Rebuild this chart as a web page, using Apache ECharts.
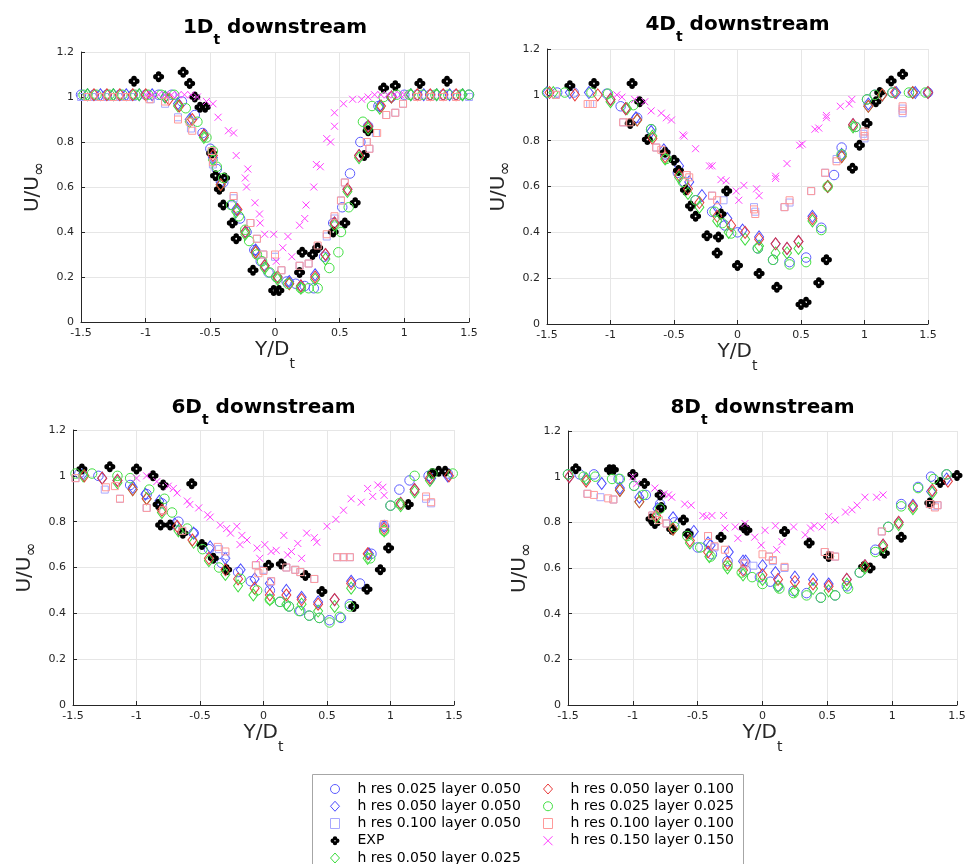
<!DOCTYPE html>
<html><head><meta charset="utf-8">
<script src="https://cdn.jsdelivr.net/npm/echarts@6/dist/echarts.min.js"></script>
<style>html,body{margin:0;padding:0;background:#fff}#c{width:972px;height:864px}</style>
</head><body><div id="c"></div>
<script>
// ---------------- DATA ----------------
const panelLabels = ['1', '4', '6', '8'];
const xTicks = [-1.5, -1, -0.5, 0, 0.5, 1, 1.5];
const yTicks = [0, 0.2, 0.4, 0.6, 0.8, 1, 1.2];
const seriesNames = ['h res 0.025 layer 0.050', 'h res 0.050 layer 0.050', 'h res 0.100 layer 0.050', 'EXP',
  'h res 0.050 layer 0.025', 'h res 0.050 layer 0.100', 'h res 0.025 layer 0.025', 'h res 0.100 layer 0.100', 'h res 0.150 layer 0.150'];

// ---- 1 Dt downstream ----
const D1_bc = [[-1.5,1.01],[-1.4,1.01],[-1.3,1.01],[-1.2,1.01],[-1.1,1.01],[-1.0,1.01],[-0.9,1.01],[-0.8,1.01],[-0.72,0.98],[-0.62,0.92],[-0.56,0.84],[-0.5,0.77],[-0.45,0.68],[-0.4,0.62],[-0.33,0.52],[-0.27,0.46],[-0.22,0.4],[-0.16,0.32],[-0.11,0.27],[-0.05,0.22],[0.01,0.2],[0.09,0.18],[0.16,0.17],[0.23,0.16],[0.3,0.15],[0.38,0.29],[0.45,0.44],[0.52,0.51],[0.58,0.66],[0.66,0.8],[0.72,0.87],[0.8,0.96],[0.9,1.0],[1.0,1.01],[1.1,1.01],[1.2,1.01],[1.3,1.01],[1.4,1.01],[1.5,1.01]];
const D1_bd = [[-1.45,1.01],[-1.35,1.01],[-1.25,1.01],[-1.15,1.01],[-1.05,1.01],[-0.95,1.01],[-0.85,1.0],[-0.75,0.97],[-0.66,0.9],[-0.55,0.83],[-0.48,0.73],[-0.42,0.62],[-0.3,0.5],[-0.23,0.4],[-0.15,0.32],[-0.08,0.25],[0.02,0.2],[0.11,0.18],[0.2,0.16],[0.31,0.21],[0.39,0.3],[0.46,0.44],[0.56,0.59],[0.65,0.74],[0.72,0.87],[0.81,0.96],[0.9,1.0],[1.05,1.01],[1.15,1.01],[1.25,1.01],[1.35,1.01],[1.45,1.01]];
const D1_bs = [[-1.5,1.0],[-1.4,1.0],[-1.3,1.0],[-1.2,1.0],[-1.1,1.0],[-0.96,0.99],[-0.85,0.97],[-0.75,0.91],[-0.65,0.86],[-0.49,0.75],[-0.48,0.7],[-0.32,0.55],[-0.19,0.44],[-0.14,0.37],[-0.09,0.3],[0.0,0.29],[0.05,0.23],[0.19,0.25],[0.26,0.26],[0.33,0.33],[0.4,0.38],[0.46,0.46],[0.51,0.54],[0.54,0.62],[0.71,0.8],[0.73,0.77],[0.78,0.84],[0.86,0.92],[0.93,0.93],[0.99,0.97],[1.1,1.0],[1.2,1.0],[1.3,1.0],[1.4,1.0],[1.5,1.0]];
const D1_exp = [[-1.09,1.07],[-0.9,1.09],[-0.71,1.11],[-0.66,1.06],[-0.62,1.0],[-0.58,0.955],[-0.54,0.955],[-0.49,0.75],[-0.46,0.65],[-0.39,0.64],[-0.43,0.59],[-0.4,0.52],[-0.33,0.44],[-0.3,0.37],[-0.17,0.23],[-0.01,0.14],[0.03,0.14],[0.19,0.22],[0.21,0.31],[0.29,0.3],[0.33,0.33],[0.45,0.4],[0.54,0.44],[0.62,0.53],[0.69,0.74],[0.72,0.85],[0.84,1.04],[0.93,1.05],[1.12,1.06],[1.33,1.07]];
const D1_gd = [[-1.45,1.01],[-1.25,1.01],[-1.05,1.01],[-0.85,1.0],[-0.75,0.96],[-0.66,0.89],[-0.55,0.82],[-0.48,0.72],[-0.42,0.61],[-0.3,0.49],[-0.23,0.39],[-0.15,0.31],[-0.08,0.24],[0.02,0.19],[0.11,0.17],[0.2,0.15],[0.31,0.19],[0.39,0.28],[0.46,0.43],[0.56,0.58],[0.65,0.73],[0.72,0.86],[0.81,0.95],[0.9,1.0],[1.05,1.01],[1.25,1.01],[1.45,1.01]];
const D1_rd = [[-1.4,1.01],[-1.3,1.01],[-1.2,1.01],[-1.1,1.01],[-1.0,1.01],[-0.82,0.99],[-0.74,0.96],[-0.64,0.9],[-0.55,0.83],[-0.48,0.74],[-0.42,0.61],[-0.29,0.5],[-0.23,0.4],[-0.15,0.31],[-0.08,0.25],[0.02,0.2],[0.11,0.17],[0.2,0.16],[0.31,0.2],[0.39,0.3],[0.46,0.44],[0.56,0.59],[0.65,0.74],[0.72,0.87],[0.82,0.96],[0.9,1.0],[1.1,1.01],[1.2,1.01],[1.3,1.01],[1.4,1.01]];
const D1_gc = [[-1.48,1.01],[-1.38,1.01],[-1.28,1.01],[-1.18,1.01],[-1.08,1.01],[-0.98,1.01],[-0.88,1.01],[-0.78,1.01],[-0.69,0.95],[-0.6,0.89],[-0.53,0.82],[-0.48,0.76],[-0.45,0.69],[-0.4,0.64],[-0.34,0.52],[-0.28,0.47],[-0.23,0.41],[-0.2,0.36],[-0.14,0.3],[-0.1,0.27],[-0.04,0.22],[0.01,0.2],[0.1,0.17],[0.2,0.15],[0.26,0.15],[0.33,0.15],[0.42,0.24],[0.49,0.31],[0.51,0.4],[0.57,0.51],[0.68,0.89],[0.75,0.96],[0.84,1.0],[0.94,1.01],[1.04,1.01],[1.14,1.01],[1.24,1.01],[1.34,1.01],[1.44,1.01],[1.5,1.01]];
const D1_rs = [[-1.45,1.0],[-1.35,1.0],[-1.25,1.0],[-1.15,1.0],[-0.97,0.99],[-0.85,0.98],[-0.75,0.9],[-0.66,0.89],[-0.64,0.85],[-0.49,0.76],[-0.48,0.71],[-0.32,0.56],[-0.19,0.44],[-0.14,0.37],[-0.09,0.3],[0.0,0.3],[0.05,0.23],[0.19,0.25],[0.26,0.26],[0.33,0.34],[0.4,0.39],[0.46,0.47],[0.51,0.54],[0.54,0.62],[0.71,0.8],[0.73,0.77],[0.79,0.84],[0.86,0.92],[0.93,0.93],[0.99,0.97],[1.1,1.0],[1.2,1.0],[1.3,1.0],[1.4,1.0]];
const D1_mx = [[-1.0,1.01],[-0.95,1.01],[-0.9,1.01],[-0.85,1.01],[-0.8,1.01],[-0.75,1.01],[-0.7,1.01],[-0.65,1.01],[-0.6,1.0],[-0.53,0.98],[-0.48,0.97],[-0.44,0.91],[-0.36,0.85],[-0.32,0.84],[-0.3,0.74],[-0.23,0.64],[-0.22,0.6],[-0.21,0.68],[-0.155,0.53],[-0.12,0.48],[-0.115,0.44],[-0.08,0.39],[-0.01,0.39],[0.01,0.27],[0.06,0.33],[0.1,0.38],[0.13,0.29],[0.19,0.43],[0.23,0.46],[0.24,0.52],[0.3,0.6],[0.32,0.7],[0.35,0.69],[0.4,0.815],[0.43,0.8],[0.46,0.87],[0.46,0.93],[0.53,0.97],[0.6,0.99],[0.67,0.99],[0.72,1.0],[0.77,1.01],[0.82,1.01],[0.87,1.01],[0.92,1.01],[0.97,1.01],[1.0,1.01]];

// ---- 4 Dt downstream ----
const D2_bc = [[-1.42,1.01],[-1.29,1.01],[-1.03,1.005],[-0.92,0.95],[-0.79,0.9],[-0.68,0.85],[-0.57,0.74],[-0.47,0.66],[-0.42,0.62],[-0.33,0.54],[-0.2,0.49],[-0.1,0.43],[0.0,0.4],[0.16,0.33],[0.28,0.28],[0.41,0.27],[0.54,0.29],[0.66,0.42],[0.76,0.65],[0.82,0.77],[0.93,0.86],[1.02,0.98],[1.08,1.0],[1.22,1.01],[1.38,1.01],[1.5,1.01]];
const D2_bd = [[-1.5,1.01],[-1.32,1.01],[-1.17,1.01],[-1.0,0.98],[-0.88,0.94],[-0.8,0.9],[-0.68,0.84],[-0.58,0.76],[-0.46,0.69],[-0.38,0.62],[-0.28,0.56],[-0.16,0.51],[-0.08,0.46],[0.04,0.41],[0.17,0.38],[0.3,0.35],[0.39,0.33],[0.48,0.36],[0.59,0.47],[0.71,0.6],[0.82,0.74],[0.91,0.87],[1.03,0.96],[1.14,1.0],[1.25,1.01],[1.4,1.01],[1.5,1.01]];
const D2_bs = [[-1.43,1.0],[-1.16,0.96],[-0.9,0.88],[-0.64,0.77],[-0.4,0.65],[-0.2,0.56],[-0.11,0.54],[0.13,0.51],[0.14,0.49],[0.37,0.51],[0.41,0.53],[0.58,0.58],[0.69,0.66],[0.78,0.72],[0.99,0.83],[1.0,0.81],[1.3,0.94],[1.3,0.92]];
const D2_exp = [[-1.32,1.04],[-1.13,1.05],[-0.83,1.05],[-0.845,0.875],[-0.77,0.97],[-0.71,0.805],[-0.57,0.75],[-0.5,0.715],[-0.465,0.67],[-0.41,0.585],[-0.37,0.515],[-0.33,0.47],[-0.24,0.385],[-0.15,0.38],[-0.13,0.48],[-0.085,0.58],[-0.16,0.31],[0.0,0.255],[0.17,0.22],[0.31,0.16],[0.5,0.085],[0.54,0.095],[0.64,0.18],[0.7,0.28],[0.905,0.68],[0.96,0.78],[1.02,0.875],[1.09,0.97],[1.12,1.01],[1.21,1.06],[1.3,1.09]];
const D2_gd = [[-1.45,1.01],[-1.0,0.97],[-0.87,0.94],[-0.79,0.89],[-0.67,0.82],[-0.57,0.72],[-0.46,0.64],[-0.39,0.57],[-0.3,0.51],[-0.16,0.45],[-0.07,0.4],[0.06,0.37],[0.17,0.34],[0.3,0.31],[0.39,0.31],[0.48,0.33],[0.59,0.45],[0.71,0.6],[0.82,0.73],[0.91,0.86],[1.03,0.95],[1.14,1.0],[1.38,1.01]];
const D2_rd = [[-1.48,1.01],[-1.28,1.0],[-1.1,1.0],[-1.0,0.98],[-0.88,0.94],[-0.79,0.89],[-0.67,0.81],[-0.57,0.73],[-0.46,0.65],[-0.39,0.59],[-0.3,0.53],[-0.16,0.47],[-0.05,0.43],[0.06,0.4],[0.17,0.37],[0.3,0.35],[0.39,0.33],[0.48,0.36],[0.59,0.46],[0.71,0.6],[0.82,0.73],[0.91,0.87],[1.03,0.95],[1.14,1.0],[1.24,1.01],[1.38,1.01],[1.5,1.01]];
const D2_gc = [[-1.5,1.01],[-1.36,1.01],[-1.15,1.01],[-1.02,1.005],[-0.82,0.955],[-0.68,0.85],[-0.56,0.72],[-0.43,0.62],[-0.33,0.54],[-0.18,0.49],[-0.12,0.44],[-0.05,0.395],[0.16,0.33],[0.28,0.28],[0.41,0.26],[0.54,0.27],[0.66,0.41],[0.71,0.6],[0.82,0.74],[0.93,0.86],[1.02,0.98],[1.08,1.0],[1.22,1.01],[1.35,1.01],[1.48,1.01]];
const D2_rs = [[-1.43,1.0],[-1.18,0.96],[-1.14,0.96],[-0.9,0.88],[-0.85,0.88],[-0.64,0.77],[-0.6,0.76],[-0.4,0.65],[-0.38,0.64],[-0.2,0.56],[-0.16,0.54],[0.13,0.5],[0.14,0.48],[0.37,0.51],[0.41,0.54],[0.58,0.58],[0.69,0.66],[0.78,0.71],[1.0,0.84],[1.0,0.82],[1.3,0.95],[1.3,0.93]];
const D2_mx = [[-0.95,1.0],[-0.91,0.99],[-0.81,0.98],[-0.73,0.97],[-0.68,0.93],[-0.6,0.92],[-0.56,0.9],[-0.52,0.89],[-0.43,0.825],[-0.42,0.82],[-0.33,0.765],[-0.22,0.69],[-0.2,0.69],[-0.13,0.63],[-0.09,0.625],[-0.01,0.58],[0.05,0.605],[0.01,0.54],[0.15,0.59],[0.17,0.56],[0.3,0.645],[0.3,0.635],[0.39,0.7],[0.49,0.78],[0.51,0.785],[0.61,0.85],[0.64,0.855],[0.7,0.9],[0.7,0.91],[0.81,0.95],[0.88,0.96],[0.9,0.98]];

// ---- 6 Dt downstream ----
const D3_bc = [[-1.45,1.01],[-1.3,1.0],[-1.05,0.96],[-0.92,0.92],[-0.8,0.88],[-0.67,0.8],[-0.55,0.75],[-0.43,0.68],[-0.33,0.62],[-0.2,0.58],[-0.1,0.54],[0.05,0.5],[0.13,0.45],[0.2,0.43],[0.29,0.41],[0.36,0.39],[0.44,0.38],[0.52,0.37],[0.61,0.38],[0.68,0.44],[0.76,0.53],[0.85,0.66],[0.95,0.78],[1.0,0.87],[1.07,0.94],[1.15,0.98],[1.3,1.0],[1.45,1.01]];
const D3_bd = [[-1.42,1.01],[-1.27,0.99],[-1.15,0.98],[-1.03,0.95],[-0.93,0.92],[-0.82,0.89],[-0.7,0.79],[-0.55,0.75],[-0.42,0.69],[-0.3,0.64],[-0.18,0.59],[-0.07,0.55],[0.05,0.53],[0.18,0.5],[0.3,0.47],[0.43,0.45],[0.56,0.46],[0.69,0.54],[0.83,0.66],[0.95,0.78],[1.08,0.88],[1.19,0.94],[1.32,0.99],[1.45,1.0]];
const D3_bs = [[-1.48,0.99],[-1.25,0.94],[-1.13,0.9],[-0.92,0.86],[-0.79,0.85],[-0.64,0.76],[-0.35,0.68],[-0.3,0.65],[-0.06,0.61],[0.0,0.59],[0.06,0.54],[0.18,0.6],[0.25,0.59],[0.29,0.58],[0.4,0.55],[0.58,0.645],[0.63,0.645],[0.68,0.645],[0.94,0.78],[1.28,0.9],[1.32,0.88]];
const D3_exp = [[-1.43,1.03],[-1.21,1.04],[-1.0,1.03],[-0.87,1.0],[-0.79,0.96],[-0.565,0.965],[-0.83,0.875],[-0.81,0.785],[-0.735,0.785],[-0.635,0.75],[-0.485,0.7],[-0.395,0.64],[-0.29,0.59],[0.04,0.61],[0.14,0.615],[0.33,0.565],[0.46,0.495],[0.71,0.43],[0.815,0.505],[0.92,0.59],[0.985,0.685],[1.14,0.875],[1.33,1.01],[1.38,1.02],[1.43,1.02]];
const D3_gd = [[-1.42,1.0],[-1.15,0.97],[-1.03,0.94],[-0.92,0.9],[-0.8,0.84],[-0.67,0.76],[-0.55,0.71],[-0.43,0.63],[-0.3,0.57],[-0.2,0.52],[-0.08,0.48],[0.05,0.46],[0.18,0.44],[0.3,0.44],[0.43,0.41],[0.56,0.43],[0.69,0.51],[0.82,0.64],[0.95,0.76],[1.08,0.87],[1.19,0.93],[1.31,0.98]];
const D3_rd = [[-1.41,1.0],[-1.27,0.99],[-1.15,0.98],[-1.03,0.94],[-0.92,0.9],[-0.8,0.85],[-0.68,0.78],[-0.56,0.72],[-0.43,0.64],[-0.3,0.59],[-0.2,0.55],[-0.07,0.51],[0.05,0.48],[0.18,0.48],[0.3,0.46],[0.43,0.44],[0.56,0.46],[0.69,0.53],[0.82,0.66],[0.95,0.77],[1.08,0.88],[1.19,0.94],[1.31,0.99],[1.46,1.0]];
const D3_gc = [[-1.48,1.01],[-1.35,1.01],[-1.15,1.0],[-1.05,0.99],[-0.9,0.94],[-0.78,0.9],[-0.72,0.84],[-0.6,0.77],[-0.48,0.68],[-0.35,0.6],[-0.18,0.55],[-0.05,0.5],[0.05,0.46],[0.13,0.45],[0.2,0.43],[0.28,0.41],[0.36,0.39],[0.44,0.38],[0.52,0.36],[0.6,0.385],[0.68,0.43],[0.84,0.64],[0.95,0.76],[1.0,0.87],[1.07,0.88],[1.19,1.0],[1.33,1.01],[1.49,1.01]];
const D3_rs = [[-1.48,0.99],[-1.24,0.95],[-1.17,0.955],[-1.13,0.9],[-0.92,0.86],[-0.79,0.85],[-0.64,0.76],[-0.36,0.69],[-0.3,0.67],[-0.06,0.61],[-0.04,0.575],[0.0,0.585],[0.06,0.54],[0.18,0.6],[0.25,0.59],[0.29,0.58],[0.4,0.55],[0.58,0.645],[0.63,0.645],[0.68,0.645],[0.95,0.79],[1.28,0.91],[1.32,0.885]];
const D3_mx = [[-1.0,0.99],[-0.92,1.0],[-0.84,0.975],[-0.75,0.955],[-0.71,0.945],[-0.68,0.925],[-0.6,0.89],[-0.58,0.875],[-0.51,0.86],[-0.44,0.83],[-0.42,0.82],[-0.34,0.785],[-0.29,0.77],[-0.26,0.75],[-0.21,0.78],[-0.17,0.74],[-0.185,0.7],[-0.13,0.72],[-0.05,0.685],[-0.03,0.64],[0.01,0.7],[0.06,0.67],[0.1,0.675],[0.16,0.74],[0.19,0.655],[0.22,0.67],[0.27,0.705],[0.3,0.64],[0.34,0.75],[0.4,0.73],[0.42,0.71],[0.5,0.78],[0.57,0.81],[0.63,0.85],[0.69,0.9],[0.77,0.885],[0.82,0.945],[0.86,0.91],[0.9,0.96],[0.94,0.95],[0.95,0.915]];

// ---- 8 Dt downstream ----
const D4_bc = [[-1.5,1.01],[-1.41,1.01],[-1.3,1.01],[-1.11,0.99],[-0.99,0.96],[-0.9,0.92],[-0.79,0.88],[-0.68,0.8],[-0.57,0.75],[-0.5,0.69],[-0.39,0.66],[-0.27,0.63],[-0.13,0.59],[-0.02,0.56],[0.06,0.54],[0.12,0.52],[0.24,0.5],[0.34,0.49],[0.45,0.47],[0.56,0.48],[0.65,0.52],[0.75,0.58],[0.87,0.68],[0.97,0.78],[1.07,0.88],[1.2,0.955],[1.3,1.0],[1.42,1.01]];
const D4_bd = [[-1.49,1.0],[-1.36,0.99],[-1.24,0.97],[-1.1,0.95],[-0.95,0.91],[-0.81,0.86],[-0.69,0.82],[-0.53,0.76],[-0.42,0.71],[-0.4,0.7],[-0.26,0.67],[-0.15,0.63],[-0.13,0.63],[0.0,0.61],[0.1,0.58],[0.25,0.56],[0.39,0.55],[0.51,0.53],[0.65,0.55],[0.79,0.61],[0.93,0.7],[1.05,0.8],[1.16,0.875],[1.3,0.935],[1.42,0.99]];
const D4_bs = [[-1.35,0.925],[-1.25,0.91],[-1.15,0.9],[-0.85,0.83],[-0.74,0.795],[-0.42,0.74],[-0.37,0.69],[-0.14,0.62],[-0.07,0.61],[0.05,0.65],[0.08,0.63],[0.17,0.6],[0.48,0.67],[0.52,0.655],[0.56,0.65],[0.92,0.76],[1.29,0.88],[1.33,0.87],[1.35,0.875]];
const D4_exp = [[-1.44,1.035],[-1.18,1.03],[-1.15,1.03],[-1.0,1.01],[-0.91,0.97],[-0.79,0.92],[-0.78,0.865],[-0.86,0.815],[-0.83,0.795],[-0.7,0.77],[-0.61,0.81],[-0.575,0.75],[-0.32,0.735],[-0.14,0.775],[-0.12,0.765],[0.17,0.76],[0.36,0.71],[0.51,0.65],[0.78,0.605],[0.83,0.6],[0.94,0.665],[1.07,0.735],[1.29,0.885],[1.37,0.975],[1.5,1.005]];
const D4_gd = [[-1.36,0.99],[-1.1,0.94],[-0.95,0.89],[-0.82,0.82],[-0.69,0.77],[-0.56,0.71],[-0.41,0.65],[-0.27,0.6],[-0.15,0.57],[0.0,0.55],[0.12,0.52],[0.25,0.5],[0.39,0.51],[0.51,0.5],[0.65,0.53],[0.79,0.6],[0.93,0.69],[1.05,0.79],[1.16,0.86],[1.31,0.93]];
const D4_rd = [[-1.49,1.0],[-1.36,0.98],[-1.1,0.94],[-0.95,0.89],[-0.82,0.83],[-0.69,0.77],[-0.56,0.72],[-0.42,0.67],[-0.27,0.62],[-0.15,0.59],[0.0,0.57],[0.12,0.55],[0.25,0.54],[0.39,0.53],[0.51,0.52],[0.65,0.55],[0.79,0.61],[0.93,0.7],[1.05,0.8],[1.16,0.87],[1.31,0.94],[1.43,0.98]];
const D4_gc = [[-1.5,1.01],[-1.38,1.0],[-1.29,1.0],[-1.16,0.99],[-1.1,0.99],[-0.99,0.96],[-0.92,0.92],[-0.79,0.86],[-0.68,0.78],[-0.58,0.74],[-0.48,0.69],[-0.4,0.65],[-0.27,0.61],[-0.16,0.58],[-0.08,0.56],[0.0,0.53],[0.13,0.51],[0.24,0.49],[0.34,0.48],[0.45,0.47],[0.56,0.48],[0.66,0.51],[0.75,0.58],[0.87,0.67],[0.97,0.78],[1.07,0.87],[1.2,0.95],[1.32,0.99],[1.42,1.01]];
const D4_rs = [[-1.35,0.925],[-1.3,0.92],[-1.19,0.905],[-1.15,0.9],[-0.85,0.83],[-0.8,0.81],[-0.74,0.795],[-0.42,0.74],[-0.37,0.695],[-0.29,0.68],[-0.14,0.62],[0.0,0.66],[0.05,0.65],[0.08,0.635],[0.17,0.605],[0.48,0.67],[0.52,0.655],[0.56,0.65],[0.92,0.76],[1.29,0.88],[1.33,0.865],[1.35,0.875]];
const D4_mx = [[-1.0,1.0],[-0.97,0.97],[-0.83,0.95],[-0.76,0.925],[-0.725,0.92],[-0.7,0.91],[-0.6,0.88],[-0.55,0.875],[-0.46,0.83],[-0.43,0.825],[-0.39,0.83],[-0.3,0.83],[-0.29,0.775],[-0.21,0.78],[-0.19,0.73],[-0.135,0.795],[-0.06,0.735],[-0.01,0.7],[0.02,0.765],[0.1,0.785],[0.11,0.68],[0.15,0.715],[0.24,0.78],[0.33,0.745],[0.37,0.775],[0.4,0.785],[0.46,0.78],[0.51,0.825],[0.56,0.81],[0.64,0.845],[0.69,0.855],[0.73,0.875],[0.79,0.91],[0.88,0.91],[0.93,0.92]];

const panelData = [
  [D1_bc, D1_bd, D1_bs, D1_exp, D1_gd, D1_rd, D1_gc, D1_rs, D1_mx],
  [D2_bc, D2_bd, D2_bs, D2_exp, D2_gd, D2_rd, D2_gc, D2_rs, D2_mx],
  [D3_bc, D3_bd, D3_bs, D3_exp, D3_gd, D3_rd, D3_gc, D3_rs, D3_mx],
  [D4_bc, D4_bd, D4_bs, D4_exp, D4_gd, D4_rd, D4_gc, D4_rs, D4_mx]
];

// ---------------- STYLE / LAYOUT ----------------
const FONT = 'DejaVu Sans';
const INK = '#262626';
const EXP_PATH = 'path://M2.5 2.5A2.5 2.5 0 0 1 7.5 2.5A2.5 2.5 0 0 1 7.5 7.5A2.5 2.5 0 0 1 2.5 7.5A2.5 2.5 0 0 1 2.5 2.5ZM5 4.2A0.8 0.8 0 0 0 5 5.8A0.8 0.8 0 0 0 5 4.2Z';
const X_PATH = 'path://M0 0L10 10M10 0L0 10';
const markerStyles = [
  {symbol: 'circle', size: 9.5, stroke: '#5c5cff'},
  {symbol: 'diamond', size: [9, 12], stroke: '#4a4aff'},
  {symbol: 'rect', size: 7, stroke: '#a8a8ff'},
  {symbol: EXP_PATH, size: 11, fill: '#000000'},
  {symbol: 'diamond', size: [9, 12], stroke: '#3ddc3d'},
  {symbol: 'diamond', size: [9, 12], stroke: '#e83a3a'},
  {symbol: 'circle', size: 9.5, stroke: '#44e044'},
  {symbol: 'rect', size: 7, stroke: '#ff9a9a'},
  {symbol: X_PATH, size: 7, stroke: '#ff3cff'}
];
const legendIconSizes = [[8, 8], [8, 11], [7, 7], [10, 10], [8, 11], [8, 11], [8, 8], [7, 7], [7, 7]];
const grids = [
  {left: 81, top: 52, width: 388, height: 270},
  {left: 547, top: 49, width: 381, height: 275},
  {left: 73, top: 430, width: 381, height: 275},
  {left: 568, top: 431, width: 389, height: 274}
];
const titleTops = [9, 6, 389, 389];

const fmt = v => String(+v.toFixed(2));
const xAxes = [], yAxes = [], series = [], titles = [];
grids.forEach((g, i) => {
  xAxes.push({
    gridIndex: i, type: 'value', min: xTicks[0], max: xTicks[xTicks.length - 1], interval: 0.5,
    axisLine: {show: true, onZero: false, lineStyle: {color: INK, width: 1}},
    axisTick: {show: true, inside: true, length: 4, lineStyle: {color: INK}},
    axisLabel: {fontFamily: FONT, fontSize: 11, color: INK, margin: 6, formatter: fmt, showMinLabel: true, showMaxLabel: true},
    splitLine: {show: true, lineStyle: {color: '#e6e6e6', width: 1}},
    name: '{a|Y/D}{s|t}', nameLocation: 'middle', nameGap: 6,
    nameTextStyle: {rich: {
      a: {fontFamily: FONT, fontSize: 20, lineHeight: 42, color: INK},
      s: {fontFamily: FONT, fontSize: 14, lineHeight: 14, verticalAlign: 'bottom', color: INK}
    }}
  });
  yAxes.push({
    gridIndex: i, type: 'value', min: yTicks[0], max: yTicks[yTicks.length - 1], interval: 0.2,
    axisLine: {show: true, onZero: false, lineStyle: {color: INK, width: 1}},
    axisTick: {show: true, inside: true, length: 4, lineStyle: {color: INK}},
    axisLabel: {fontFamily: FONT, fontSize: 11, color: INK, margin: 7, formatter: fmt, showMinLabel: true, showMaxLabel: true},
    splitLine: {show: true, lineStyle: {color: '#e6e6e6', width: 1}},
    name: '{a|U/U}{s|∞}', nameLocation: 'middle', nameGap: 33, nameRotate: 90,
    nameTextStyle: {rich: {
      a: {fontFamily: FONT, fontSize: 20, lineHeight: 30, color: INK},
      s: {fontFamily: FONT, fontSize: 17, lineHeight: 24, verticalAlign: 'bottom', color: INK}
    }}
  });
  titles.push({
    text: '{a|' + panelLabels[i] + 'D}{s|t}{a| downstream}',
    left: g.left + g.width / 2, top: titleTops[i], padding: 0,
    textAlign: 'center', textVerticalAlign: 'top',
    textStyle: {rich: {
      a: {fontFamily: FONT, fontSize: 20, fontWeight: 'bold', lineHeight: 38, color: '#000'},
      s: {fontFamily: FONT, fontSize: 14, fontWeight: 'bold', lineHeight: 14, verticalAlign: 'bottom', color: '#000'}
    }}
  });
  panelData[i].forEach((d, k) => {
    const m = markerStyles[k];
    series.push({
      type: 'scatter', name: seriesNames[k], xAxisIndex: i, yAxisIndex: i,
      data: d, symbol: m.symbol, symbolSize: m.size,
      itemStyle: m.fill ? {color: m.fill, borderWidth: 0, opacity: 1}
                        : {color: 'transparent', borderColor: m.stroke, borderWidth: 1, opacity: 1},
      emphasis: {disabled: true}, silent: true, clip: false
    });
  });
});

const legendItems = seriesNames.map((n, k) => {
  const m = markerStyles[k];
  return {
    name: n, icon: m.symbol,
    itemStyle: m.fill ? {color: m.fill, borderWidth: 0} : {color: 'transparent', borderColor: m.stroke, borderWidth: 1}
  };
});
const legendCommon = {
  orient: 'vertical', itemWidth: 9, itemHeight: 10, itemGap: 3.25, padding: 0,
  height: 200, selectedMode: false, inactiveColor: '#000',
  textStyle: {fontFamily: FONT, fontSize: 14, color: '#000', lineHeight: 12, padding: [0, 0, 0, 13]}
};

const option = {
  animation: false,
  backgroundColor: '#ffffff',
  title: titles,
  grid: grids.map(g => Object.assign({containLabel: false}, g)),
  xAxis: xAxes,
  yAxis: yAxes,
  legend: [
    Object.assign({left: 330, top: 782, data: legendItems.slice(0, 5)}, legendCommon),
    Object.assign({left: 543, top: 782, data: legendItems.slice(5)}, legendCommon)
  ],
  graphic: [{
    type: 'rect', left: 312, top: 774, z: 0,
    shape: {width: 431, height: 100},
    style: {fill: '#ffffff', stroke: '#a6a6a6', lineWidth: 1}
  }],
  series: series
};

const chart = echarts.init(document.getElementById('c'), null, {renderer: 'canvas'});
chart.setOption(option);
</script>
</body></html>
